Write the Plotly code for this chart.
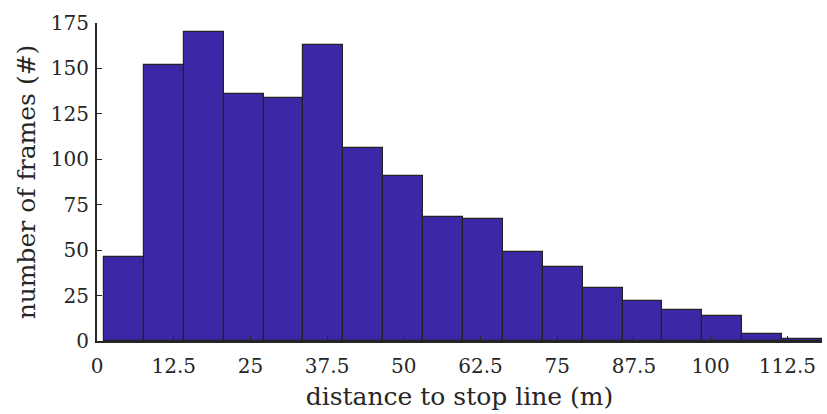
import numpy as np
import plotly.graph_objects as go

# histogram data (counts per bin)
counts = [46, 152, 170, 136, 134, 163, 106, 91, 68, 67, 49, 41, 29, 22, 17, 14, 4, 1]
bin_start = 1.15
bin_width = 6.5
x_ticks = [0, 12.5, 25, 37.5, 50, 62.5, 75, 87.5, 100, 112.5]
x_tick_labels = ["0", "12.5", "25", "37.5", "50", "62.5", "75", "87.5", "100", "112.5"]
y_ticks = [0, 25, 50, 75, 100, 125, 150, 175]
x_title = "distance to stop line (m)"
y_title = "number of frames (#)"

edges = bin_start + bin_width * np.arange(len(counts) + 1)
centers = (edges[:-1] + edges[1:]) / 2

FONT = "DejaVu Serif"
AX = "#262626"

fig = go.Figure()
fig.add_trace(go.Bar(
    x=centers, y=counts, width=bin_width,
    marker=dict(color="#3C28A6", line=dict(color="#222222", width=1.2)),
    hoverinfo="x+y",
))

fig.update_layout(
    width=827, height=414,
    margin=dict(l=97, r=5, t=23, b=73),
    paper_bgcolor="white", plot_bgcolor="white",
    showlegend=False, bargap=0,
    font=dict(family=FONT, color=AX),
)
fig.update_xaxes(
    range=[0, edges[-1]],
    tickvals=x_ticks, ticktext=x_tick_labels,
    showline=True, linecolor=AX, linewidth=2,
    ticks="inside", ticklen=5, tickwidth=1, tickcolor=AX,
    ticklabelstandoff=6,
    showgrid=False, zeroline=False,
    tickfont=dict(family=FONT, size=20, color=AX),
    title=dict(text=x_title, font=dict(family=FONT, size=25, color=AX), standoff=10),
)
fig.update_yaxes(
    range=[0, 175],
    tickvals=y_ticks,
    showline=True, linecolor=AX, linewidth=2,
    ticks="inside", ticklen=5, tickwidth=1, tickcolor=AX,
    ticklabelstandoff=2,
    showgrid=False, zeroline=False,
    tickfont=dict(family=FONT, size=20, color=AX),
    title=dict(text=y_title, font=dict(family=FONT, size=25, color=AX), standoff=8),
)

fig.write_html("out.html")
